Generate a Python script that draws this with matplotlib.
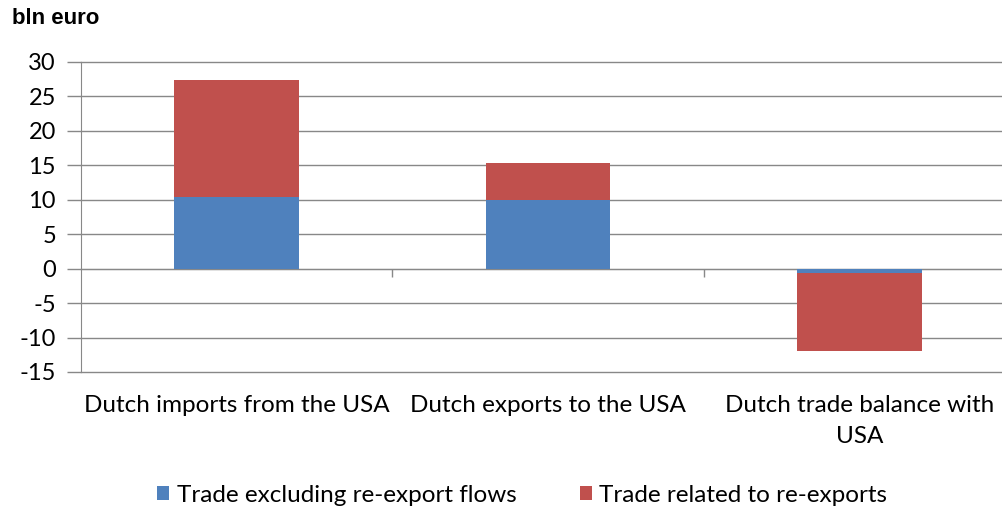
import numpy as np
import matplotlib
matplotlib.use("Agg")
import matplotlib.pyplot as plt
import matplotlib.transforms as mtransforms

# bln euro, Dutch trade with the USA
categories = ["Dutch imports from the USA", "Dutch exports to the USA",
              "Dutch trade balance with\nUSA"]
excl_reexport = [10.4, 9.9, -0.6]
reexport_related = [17.0, 5.5, -11.4]
series_names = ["Trade excluding re-export flows", "Trade related to re-exports"]
yticks = [30, 25, 20, 15, 10, 5, 0, -5, -10, -15]

blue = "#4F81BD"
red = "#C0504D"
grid_col = "#888888"

plt.rcParams["font.family"] = ["Lato", "DejaVu Sans"]

fig = plt.figure(figsize=(10.02, 5.09), dpi=100)
ax = fig.add_axes([81 / 1002, 1 - 372 / 509, 934 / 1002, 310 / 509])

x = np.arange(len(categories))
excl = np.array(excl_reexport)
rel = np.array(reexport_related)
ax.bar(x, excl, width=0.4, color=blue, label=series_names[0], zorder=3)
ax.bar(x, rel, width=0.4, bottom=excl, color=red, label=series_names[1], zorder=3)

ax.set_xlim(-0.5, len(categories) - 0.5)
ax.set_ylim(min(yticks), max(yticks))
ax.set_yticks(yticks)
ax.set_yticklabels([str(v) for v in yticks], fontsize=17)
ax.tick_params(axis="y", length=10, color=grid_col, width=1, pad=8)
ax.yaxis.grid(True, color=grid_col, linewidth=1, zorder=0)
for gl in ax.get_ygridlines():
    gl.set_clip_on(False)

for s in ["top", "right"]:
    ax.spines[s].set_visible(False)
ax.spines["left"].set_color(grid_col)
ax.spines["bottom"].set_position(("data", 0))
ax.spines["bottom"].set_color(grid_col)
ax.set_xticks([0.5, 1.5])
ax.set_xticklabels([])
ax.tick_params(axis="x", length=6, color=grid_col, width=1, direction="out")

# category labels sit below the plot area, not on the zero line
trans = mtransforms.blended_transform_factory(ax.transData, ax.transAxes)
for xi, lab in zip(x, categories):
    ax.text(xi, -0.075, lab, transform=trans, ha="center", va="top",
            fontsize=17.5, linespacing=1.55)

fig.text(12 / 1002, 1 - 18 / 509, "bln euro", fontsize=16, fontweight="bold",
         family="Liberation Sans", va="center", ha="left")

fig.legend(loc="center", bbox_to_anchor=(0.521, 1 - 495 / 509), ncol=2,
           frameon=False, fontsize=17.5, handlelength=0.5, handleheight=0.5,
           handletextpad=0.3, columnspacing=2.6)

fig.savefig("out.png", dpi=100)
